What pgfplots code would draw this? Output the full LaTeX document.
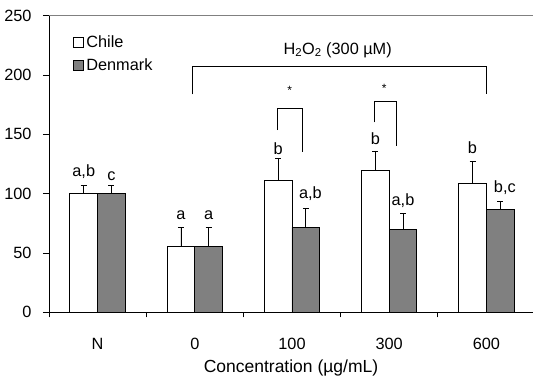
\documentclass[border=0pt]{standalone}
\usepackage{pgfplots}
\pgfplotsset{compat=1.18}
\usepackage{fontspec}
\setmainfont{Liberation Sans}
\begin{document}
\begin{tikzpicture}[font=\fontsize{16.3}{19.5}\selectfont]
\path[use as bounding box] (-49pt,-64.7pt) rectangle (484pt,312.3pt);
\begin{axis}[
  scale only axis,
  width=484pt, height=296.6pt,
  xmin=-0.5, xmax=4.48,
  ymin=0, ymax=250,
  axis x line*=bottom, axis y line*=left,
  axis line style={black, line width=0.8pt, -},
  ytick={0,50,...,250},
  xtick={0,1,2,3,4},
  xticklabels={N,0,100,300,600},
  major x tick style={draw=none},
  minor xtick={-0.5,0.5,1.5,2.5,3.5},
  tick align=outside,
  major tick length=6pt,
  minor tick length=5pt,
  tick style={black, line width=0.8pt},
  /pgf/number format/assume math mode=true,
  yticklabel style={anchor=east, xshift=-8pt},
  xticklabel style={anchor=base, yshift=-31pt},
  xlabel={Concentration (µg/mL)},
  xlabel style={at={(axis description cs:0.5,0)}, anchor=base, yshift=-60.5pt, font=\fontsize{17.5}{21}\selectfont},
  legend style={draw=none, fill=none, at={(axis cs:-0.26,235)}, anchor=north west,
    inner sep=0pt, row sep=6pt, legend cell align=left, font=\fontsize{16.3}{19.5}\selectfont,
    nodes={inner xsep=3pt}},
  legend image code/.code={\draw[#1, line width=0.8pt] (0pt,-5pt) rectangle (10pt,5pt);},
  legend cell align=left,
  clip=false,
]
\addplot[ybar, bar width=0.285, bar shift=0pt, fill=white, draw=black, line width=0.8pt,
  error bars/.cd, y dir=plus, y explicit,
  error bar style={black, line width=0.8pt},
  error mark options={black, rotate=90, mark size=3pt, line width=0.8pt}]
  coordinates {(-0.1425,100) +- (0,7) (0.8575,55.5) +- (0,16) (1.8575,111.5) +- (0,18) (2.8575,119.5) +- (0,16.5) (3.8575,108.5) +- (0,18.5)};
\addlegendentry{Chile}
\addplot[ybar, bar width=0.285, bar shift=0pt, fill={rgb,255:red,128;green,128;blue,128}, draw=black, line width=0.8pt,
  error bars/.cd, y dir=plus, y explicit,
  error bar style={black, line width=0.8pt},
  error mark options={black, rotate=90, mark size=3pt, line width=0.8pt}]
  coordinates {(0.1425,100) +- (0,7) (1.1425,55.5) +- (0,16) (2.1425,71.5) +- (0,16) (3.1425,69.5) +- (0,14) (4.1425,86.5) +- (0,7)};
\addlegendentry{Denmark}
% top frame line
\draw[gray, line width=0.8pt] (rel axis cs:0,1) -- (rel axis cs:1,1);
% letters
\begin{scope}[every node/.style={inner sep=0pt, anchor=base}]
\node at (axis cs:-0.1425,114.8) {a,b};
\node at (axis cs:0.1425,111.5) {c};
\node at (axis cs:0.8575,77.8) {a};
\node at (axis cs:1.1425,77.8) {a};
\node at (axis cs:1.8575,133.4) {b};
\node at (axis cs:2.19,96.0) {a,b};
\node at (axis cs:2.8575,141.8) {b};
\node at (axis cs:3.1425,90.4) {a,b};
\node at (axis cs:3.8575,134) {b};
\node at (axis cs:4.19,100.8) {b,c};
\node at (axis cs:2.47,217.6) {H\textsubscript{2}O\textsubscript{2} (300 µM)};
\node[font=\fontsize{12}{14}\selectfont] at (axis cs:1.977,183.2) {*};
\node[font=\fontsize{12}{14}\selectfont] at (axis cs:2.95,185.1) {*};
\end{scope}
% brackets
\draw[black, line width=0.8pt] (axis cs:0.975,183.7) -- (axis cs:0.975,207.3) -- (axis cs:4.005,207.3) -- (axis cs:4.005,183.7);
\draw[black, line width=0.8pt] (axis cs:1.85,153.6) -- (axis cs:1.85,171.9) -- (axis cs:2.11,171.9) -- (axis cs:2.11,135.3);
\draw[black, line width=0.8pt] (axis cs:2.847,160) -- (axis cs:2.847,177.8) -- (axis cs:3.076,177.8) -- (axis cs:3.076,140.4);
\end{axis}
\end{tikzpicture}
\end{document}
